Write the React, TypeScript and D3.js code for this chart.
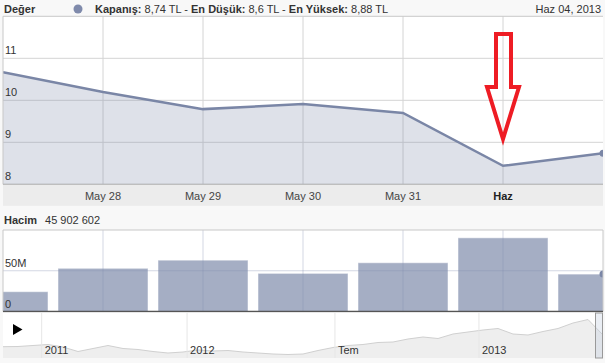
import * as d3 from "d3";

// daily closes (TL) and volume shown in the zoomed window
const days = ["May 27", "May 28", "May 29", "May 30", "May 31", "Haz 03", "Haz 04"];
const dayTicks = ["", "May 28", "May 29", "May 30", "May 31", "Haz", ""];
const closes = [10.67, 10.2, 9.79, 9.91, 9.7, 8.44, 8.74];
const volumes = [24.3e6, 53e6, 63e6, 46.8e6, 59.8e6, 90.4e6, 45902602];
const priceTicks = [8, 9, 10, 11];
const volumeTicks = [0, 50e6];

// long-range series for the navigator
const navCloses = [
  6.13, 6.15, 6.25, 6.35, 6.1, 5.65, 5.95, 6.25, 5.95, 5.85, 5.65, 5.5, 5.6, 5.8,
  5.7, 5.75, 5.6, 5.5, 5.4, 5.35, 5.4, 5.75, 6.05, 6.25, 6.35, 6.55, 6.6, 6.9,
  7.1, 6.95, 7.4, 7.6, 7.8, 7.95, 7.4, 7.3, 7.65, 7.95, 8.5, 8.85, 7.3,
];
const navTickLabels = ["2011", "2012", "Tem", "2013"];
const navTickIndex = [2.58, 12.27, 22.13, 31.73];

const W = 605;
const H = 363;
const FONT = "'Liberation Sans', Arial, sans-serif";
const LINE = "#7a86a6";

export default function App() {
  const left = 3;
  const right = 603;

  const x = d3.scaleLinear([0, days.length - 1], [left, right]);
  const y = d3.scaleLinear([8, 12], [184.3, 16.3]);
  const yv = d3.scaleLinear([0, 100e6], [311.5, 230]);
  const xn = d3.scaleLinear([0, navCloses.length - 1], [left, right]);
  const yn = d3.scaleLinear([5, 9.2], [358, 316]);

  const line = d3
    .line<number>()
    .x((d, i) => x(i))
    .y((d) => y(d));
  const area = d3
    .area<number>()
    .x((d, i) => x(i))
    .y0(y(8))
    .y1((d) => y(d));
  const navLine = d3
    .line<number>()
    .x((d, i) => xn(i))
    .y((d) => yn(d));
  const navArea = d3
    .area<number>()
    .x((d, i) => xn(i))
    .y0(358)
    .y1((d) => yn(d));

  const barW = (x(1) - x(0)) * 0.9;
  const gridIdx = d3.range(1, days.length - 1);

  return (
    <svg
      width={W}
      height={H}
      style={{ position: "absolute", left: 0, top: 0, fontFamily: FONT }}
    >
      <defs>
        <clipPath id="plotClip">
          <rect x={left} y={0} width={right - left} height={H} />
        </clipPath>
      </defs>
      <rect width={W} height={H} fill="#f8f8f8" />

      {/* header */}
      <text x={4} y={13} fontSize={11} fontWeight="bold" fill="#333">
        Değer
      </text>
      <circle cx={78} cy={9} r={4.5} fill="#7f8aab" />
      <text x={95} y={13} fontSize={11} fill="#333">
        <tspan fontWeight="bold">Kapanış:</tspan> 8,74 TL -{" "}
        <tspan fontWeight="bold">En Düşük:</tspan> 8,6 TL -{" "}
        <tspan fontWeight="bold">En Yüksek:</tspan> 8,88 TL
      </text>
      <text x={601} y={13} fontSize={11} fill="#333" textAnchor="end">
        Haz 04, 2013
      </text>

      {/* price plot */}
      <rect x={left} y={y(12)} width={right - left} height={y(8) - y(12)} fill="#fff" />
      {priceTicks.map((t) => (
        <line key={t} x1={left} x2={right} y1={y(t)} y2={y(t)} stroke="#d4d4d4" />
      ))}
      {gridIdx.map((i) => (
        <line key={i} x1={x(i)} x2={x(i)} y1={y(12)} y2={y(8)} stroke="#d4d4d4" />
      ))}
      <g clipPath="url(#plotClip)">
        <path d={area(closes) ?? ""} fill={LINE} fillOpacity={0.25} />
        <path d={line(closes) ?? ""} fill="none" stroke={LINE} strokeWidth={2.5} />
        <circle cx={x(closes.length - 1)} cy={y(closes[closes.length - 1])} r={3.5} fill={LINE} />
      </g>
      {priceTicks.map((t) => (
        <text key={t} x={5} y={y(t) - 4} fontSize={11} fill="#333">
          {t}
        </text>
      ))}
      <line x1={left} x2={right} y1={y(12)} y2={y(12)} stroke="#c8c8c8" />
      <line x1={left} x2={left} y1={y(12)} y2={y(8)} stroke="#c8c8c8" />
      <line x1={left} x2={right} y1={y(8)} y2={y(8)} stroke="#aaa" />

      {/* annotation arrow */}
      <path
        d="M496,34 L511,34 L511,87 L519,87 L503,139 L487,87 L496,87 Z"
        fill="none"
        stroke="#ee1c24"
        strokeWidth={4}
      />

      {/* x axis band */}
      <rect x={left} y={y(8) + 0.5} width={right - left} height={21} fill="#ececec" />
      {dayTicks.map((t, i) =>
        t ? (
          <text
            key={i}
            x={x(i)}
            y={200}
            fontSize={11}
            fill={t === "Haz" ? "#222" : "#444"}
            fontWeight={t === "Haz" ? "bold" : "normal"}
            textAnchor="middle"
          >
            {t}
          </text>
        ) : null
      )}

      {/* volume */}
      <text x={4} y={224} fontSize={11} fill="#333">
        <tspan fontWeight="bold">Hacim</tspan>
        <tspan dx={8}>45 902 602</tspan>
      </text>
      <rect x={left} y={yv(100e6)} width={right - left} height={yv(0) - yv(100e6)} fill="#fff" />
      <g clipPath="url(#plotClip)">
        {volumes.map((v, i) => (
          <rect
            key={i}
            x={x(i) - barW / 2}
            y={yv(v)}
            width={barW}
            height={yv(0) - yv(v)}
            fill="#7f8bab"
            fillOpacity={0.7}
            stroke="#fff"
            strokeOpacity={0.5}
          />
        ))}
        <circle cx={x(volumes.length - 1)} cy={yv(volumes[volumes.length - 1])} r={3.5} fill={LINE} />
      </g>
      {volumeTicks.map((t) => (
        <line key={t} x1={left} x2={right} y1={yv(t)} y2={yv(t)} stroke="#7f8bab" strokeOpacity={0.35} />
      ))}
      {gridIdx.map((i) => (
        <line key={i} x1={x(i)} x2={x(i)} y1={yv(100e6)} y2={yv(0)} stroke="#7f8bab" strokeOpacity={0.35} />
      ))}
      {volumeTicks.map((t) => (
        <text key={t} x={5} y={yv(t) - 4} fontSize={11} fill="#333">
          {t === 0 ? "0" : `${t / 1e6}M`}
        </text>
      ))}
      <line x1={left} x2={right} y1={yv(100e6)} y2={yv(100e6)} stroke="#c8c8c8" />
      <line x1={left} x2={left} y1={yv(100e6)} y2={yv(0)} stroke="#c8c8c8" />
      <line x1={right} x2={right} y1={yv(100e6)} y2={yv(0)} stroke="#c8c8c8" />
      <line x1={left} x2={right} y1={yv(0)} y2={yv(0)} stroke="#555" strokeWidth={1.5} />

      {/* navigator */}
      <rect x={left} y={312.5} width={right - left} height={45.5} fill="#fff" />
      <path d={navArea(navCloses) ?? ""} fill="#eeeeee" />
      <path d={navLine(navCloses) ?? ""} fill="none" stroke="#d0d0d0" strokeWidth={1} />
      {navTickIndex.map((ti, k) => (
        <g key={k}>
          <line x1={xn(ti)} x2={xn(ti)} y1={312.5} y2={358} stroke="#e6e6e6" />
          <text x={xn(ti) + 3} y={354} fontSize={11} fill="#333">
            {navTickLabels[k]}
          </text>
        </g>
      ))}
      <path d="M13,324 L22.5,329.5 L13,335 Z" fill="#000" />
      <rect x={595.5} y={313} width={7} height={45} fill="#c4cde0" fillOpacity={0.35} stroke="#999" />
    </svg>
  );
}
